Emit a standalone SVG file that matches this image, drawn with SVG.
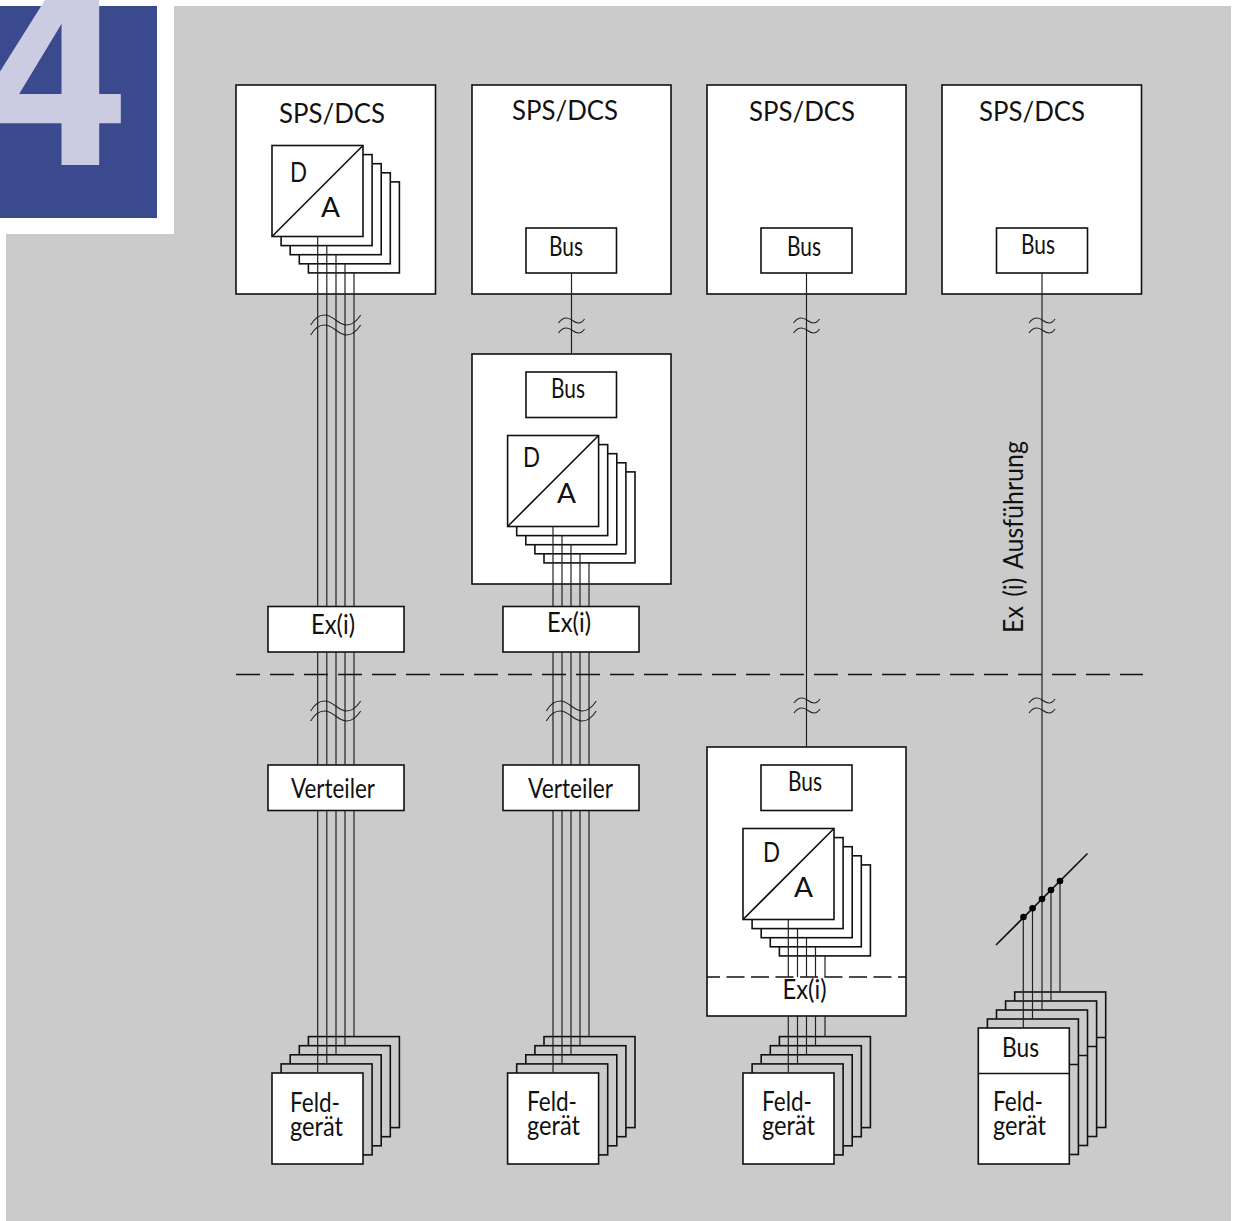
<svg xmlns="http://www.w3.org/2000/svg" width="1239" height="1221" viewBox="0 0 1239 1221">
<style>
text{font-family:"Lato","Liberation Sans",sans-serif;font-size:26px;fill:#111}
.b{fill:#fff;stroke:#111;stroke-width:1.6}
.g{fill:#cbcbcb;stroke:#111;stroke-width:1.6}
.w{fill:none;stroke:#222;stroke-width:1.2}
.t{fill:none;stroke:#222;stroke-width:1.1}
.d{fill:none;stroke:#111;stroke-width:1.6}
</style>
<defs>
<g id="da">
<rect class="b" x="36.4" y="36.4" width="91" height="91"/>
<rect class="b" x="27.3" y="27.3" width="91" height="91"/>
<rect class="b" x="18.2" y="18.2" width="91" height="91"/>
<rect class="b" x="9.1" y="9.1" width="91" height="91"/>
<rect class="b" x="0" y="0" width="91" height="91"/>
<path class="d" d="M0 91L91 0"/>
</g>
<g id="feld">
<rect class="g" x="36.4" y="-36.4" width="91" height="91"/>
<rect class="g" x="27.3" y="-27.3" width="91" height="91"/>
<rect class="g" x="18.2" y="-18.2" width="91" height="91"/>
<rect class="g" x="9.1" y="-9.1" width="91" height="91"/>
<rect class="b" x="0" y="0" width="91" height="91"/>
</g>
<path id="br5" class="t" d="M0 10C4 3 9 0 14 0C23 0 27 10 36 10C41 10 46 6 50 0M0 20C4 13 9 10 14 10C23 10 27 20 36 20C41 20 46 16 50 10"/>
<path id="br1" class="t" d="M0 5C2 2 5 0 8 0C13 0 15 5 20 5C22 5 24 4 26 1M0 15C2 12 5 10 8 10C13 10 15 15 20 15C22 15 24 14 26 11"/>
</defs>
<g id="background">
<path fill="#cbcbcb" d="M174 6H1231V1221H6V234H174Z"/>
<rect fill="#3b4a8e" x="0" y="6" width="157" height="212"/>
<text x="128" y="165" text-anchor="end" style="font-family:'Roboto','Liberation Sans',sans-serif;font-weight:700;font-size:268px;fill:#cbcce2">4</text>
</g>
<g id="col1-sps"><rect class="b" x="236" y="85" width="199.500" height="209"/><text x="279" y="123" textLength="106" lengthAdjust="spacingAndGlyphs">SPS/DCS</text></g>
<g id="col1-da"><use href="#da" x="272" y="145.500"/><text x="290" y="182" textLength="17" lengthAdjust="spacingAndGlyphs">D</text><text x="321" y="217" textLength="19" lengthAdjust="spacingAndGlyphs">A</text></g>
<g id="col2-sps"><rect class="b" x="472" y="85" width="199" height="209"/><text x="512" y="120" textLength="106" lengthAdjust="spacingAndGlyphs">SPS/DCS</text><rect class="b" x="526" y="228" width="90.500" height="45"/><text x="549" y="256" textLength="34" lengthAdjust="spacingAndGlyphs">Bus</text></g>
<g id="col3-sps"><rect class="b" x="707" y="85" width="199" height="209"/><text x="749" y="121" textLength="106" lengthAdjust="spacingAndGlyphs">SPS/DCS</text><rect class="b" x="761" y="228" width="91" height="45"/><text x="787" y="256" textLength="34" lengthAdjust="spacingAndGlyphs">Bus</text></g>
<g id="col4-sps"><rect class="b" x="942" y="85" width="199.500" height="209"/><text x="979" y="121" textLength="106" lengthAdjust="spacingAndGlyphs">SPS/DCS</text><rect class="b" x="996.500" y="228" width="91" height="45"/><text x="1021" y="254" textLength="34" lengthAdjust="spacingAndGlyphs">Bus</text></g>
<g id="col2-io"><rect class="b" x="472" y="354" width="199" height="230"/><rect class="b" x="526" y="372" width="90.500" height="45.500"/><text x="551" y="398" textLength="34" lengthAdjust="spacingAndGlyphs">Bus</text><use href="#da" x="507.600" y="435.500"/><text x="523" y="467" textLength="17" lengthAdjust="spacingAndGlyphs">D</text><text x="557" y="503" textLength="19" lengthAdjust="spacingAndGlyphs">A</text></g>
<g id="col3-io"><rect class="b" x="707" y="747" width="199" height="269"/><rect class="b" x="761" y="765" width="91" height="45.500"/><text x="788" y="791" textLength="34" lengthAdjust="spacingAndGlyphs">Bus</text><use href="#da" x="743" y="828.500"/><text x="763" y="862" textLength="17" lengthAdjust="spacingAndGlyphs">D</text><text x="794" y="897" textLength="19" lengthAdjust="spacingAndGlyphs">A</text><path class="d" stroke-width="1.8" stroke-dasharray="18 6.500" stroke-dashoffset="5" d="M707 977H906"/><text x="782.500" y="999" textLength="44" lengthAdjust="spacingAndGlyphs">Ex(i)</text></g>
<g id="col1-ex"><rect class="b" x="268" y="606.500" width="136" height="45.500"/><text x="311" y="634" textLength="44" lengthAdjust="spacingAndGlyphs">Ex(i)</text></g>
<g id="col2-ex"><rect class="b" x="503" y="606.500" width="136" height="45.500"/><text x="547" y="632" textLength="44" lengthAdjust="spacingAndGlyphs">Ex(i)</text></g>
<g id="col1-verteiler"><rect class="b" x="268" y="765" width="136" height="45.500"/><text x="291" y="798" textLength="84" lengthAdjust="spacingAndGlyphs">Verteiler</text></g>
<g id="col2-verteiler"><rect class="b" x="503" y="765" width="136" height="45.500"/><text x="528" y="798" textLength="85" lengthAdjust="spacingAndGlyphs">Verteiler</text></g>
<g id="col1-feld"><use href="#feld" x="272" y="1073"/><text x="290" y="1112" textLength="50" lengthAdjust="spacingAndGlyphs">Feld-</text><text x="290" y="1136" textLength="53" lengthAdjust="spacingAndGlyphs">gerät</text></g>
<g id="col2-feld"><use href="#feld" x="507.600" y="1073"/><text x="527" y="1111" textLength="50" lengthAdjust="spacingAndGlyphs">Feld-</text><text x="527" y="1135" textLength="53" lengthAdjust="spacingAndGlyphs">gerät</text></g>
<g id="col3-feld"><use href="#feld" x="743" y="1073"/><text x="762" y="1111" textLength="50" lengthAdjust="spacingAndGlyphs">Feld-</text><text x="762" y="1135" textLength="53" lengthAdjust="spacingAndGlyphs">gerät</text></g>
<g id="col4-feld">
<rect class="g" x="1014.700" y="992" width="91" height="135.500"/><path class="d" d="M1014.700 1037.500H1105.700"/>
<rect class="g" x="1005.600" y="1001" width="91" height="135.500"/><path class="d" d="M1005.600 1046.500H1096.600"/>
<rect class="g" x="996.500" y="1010" width="91" height="135.500"/><path class="d" d="M996.500 1055.500H1087.500"/>
<rect class="g" x="987.400" y="1019" width="91" height="135.500"/><path class="d" d="M987.400 1064.500H1078.400"/>
<rect class="b" x="978.300" y="1028" width="91" height="136"/><path class="d" d="M978.300 1073.500H1069.300"/>
<text x="1002" y="1057" textLength="37" lengthAdjust="spacingAndGlyphs">Bus</text><text x="993" y="1111" textLength="50" lengthAdjust="spacingAndGlyphs">Feld-</text><text x="993" y="1135" textLength="53" lengthAdjust="spacingAndGlyphs">gerät</text>
</g>
<text id="ex-label" transform="translate(1023 633) rotate(-90)" x="0" y="0" style="word-spacing:3px" textLength="192" lengthAdjust="spacingAndGlyphs">Ex (i) Ausführung</text>
<g id="connectors">
<path class="w" d="M317.700 236V606.500M317.700 652V765M317.700 810.500V1073M326.800 245V606.500M326.800 652V765M326.800 810.500V1064M336 254V606.500M336 652V765M336 810.500V1055M345 263V606.500M345 652V765M345 810.500V1046M354 272V606.500M354 652V765M354 810.500V1037"/>
<path class="w" d="M553 526V606.500M553 652V765M553 810.500V1073M562 535V606.500M562 652V765M562 810.500V1064M571 544V606.500M571 652V765M571 810.500V1055M580 553V606.500M580 652V765M580 810.500V1046M589 562V606.500M589 652V765M589 810.500V1037"/>
<path class="w" d="M571.500 273V354M806.500 273V747M1042 273V1009"/>
<path class="w" d="M788.300 919.500V977M788.300 1016V1073M797.500 928.500V977M797.500 1016V1064M806.500 937.500V977M806.500 1016V1055M815.500 946.500V977M815.500 1016V1046M825 955.500V977M825 1016V1037"/>
<path class="w" d="M1023.300 917V1028M1032.500 908.500V1019M1051 890V1001M1060 881V992"/>
<path class="d" d="M996 945L1087.500 853.500"/>
<g fill="#000"><circle cx="1023.500" cy="917" r="3.300"/><circle cx="1032.600" cy="908.300" r="3.300"/><circle cx="1042" cy="899" r="3.300"/><circle cx="1051" cy="890" r="3.300"/><circle cx="1060" cy="881" r="3.300"/></g>
<path class="d" stroke-dasharray="24 10" d="M236 674.500H1143"/>
<use href="#br5" x="310.700" y="315"/><use href="#br5" x="310.700" y="701"/><use href="#br5" x="546.300" y="701"/>
<use href="#br1" x="558.500" y="318"/><use href="#br1" x="793.500" y="318"/><use href="#br1" x="1029" y="318"/>
<use href="#br1" x="794" y="698"/><use href="#br1" x="1029" y="698"/>
</g>
</svg>
